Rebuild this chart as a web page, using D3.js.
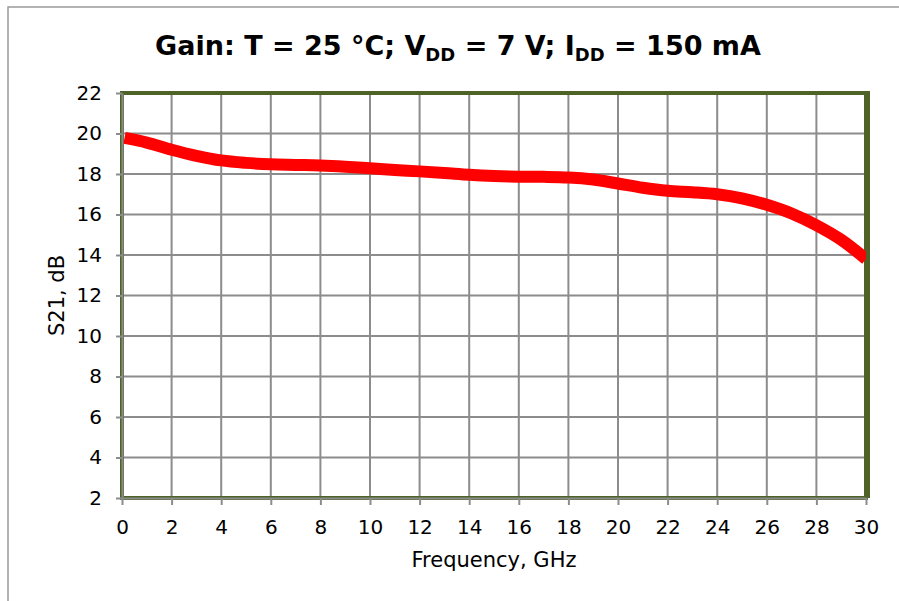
<!DOCTYPE html>
<html lang="en">
<head>
<meta charset="utf-8">
<title>Gain</title>
<script src="https://d3js.org/d3.v7.min.js"></script>
<style>
body { margin: 0; background: #fff; }
text { font-family: "DejaVu Sans", Verdana, sans-serif; fill: #000; }
.line { fill: none; stroke: #ff0000; stroke-width: 12px; stroke-linejoin: round; stroke-linecap: butt; }
</style>
</head>
<body>
<svg width="899" height="601"></svg>
<script>

var freq = [0.1, 1, 2, 3, 4, 5, 6, 7, 8, 9, 10, 11, 12, 13, 14, 15, 16, 17, 18, 19, 20,
            21, 22, 23, 24, 25, 26, 27, 28, 29, 30];
var s21 = [19.78, 19.55, 19.2, 18.9, 18.67, 18.55, 18.48, 18.45, 18.42, 18.36, 18.28, 18.2, 18.13, 18.05, 17.96, 17.9, 17.87, 17.86, 17.83, 17.73, 17.53,
           17.32, 17.17, 17.1, 17.0, 16.8, 16.48, 16.05, 15.47, 14.75, 13.8];
var xTicks = d3.range(0, 31, 2);
var yTicks = d3.range(2, 23, 2);

var data = freq.map((f, i) => ({f: f, v: s21[i]}));

var svg = d3.select("svg");

var margin = {top: 93, right: 33, bottom: 103, left: 122};
var width = +svg.attr("width") - margin.left - margin.right;
var height = +svg.attr("height") - margin.top - margin.bottom;

// outer chart frame, runs off the picture on right and bottom
svg.append("rect")
    .attr("x", 8).attr("y", 7)
    .attr("width", 1000).attr("height", 1000)
    .attr("fill", "none")
    .attr("stroke", "#9a9a9a")
    .attr("stroke-width", 1.5);

svg.append("clipPath").attr("id", "plot")
  .append("rect")
    .attr("x", 0).attr("y", 0)
    .attr("width", 744).attr("height", 405);

var g = svg.append("g").attr("transform", `translate(${margin.left}, ${margin.top})`);

var xScale = d3.scaleLinear().domain([0, 30]).range([0, width]);
var yScale = d3.scaleLinear().domain([2, 22]).range([height, 0]);

// grid
g.append("g")
    .selectAll("line")
    .data(xTicks)
    .enter().append("line")
    .attr("x1", d => xScale(d)).attr("x2", d => xScale(d))
    .attr("y1", 0).attr("y2", height)
    .attr("stroke", "#8c8c8c").attr("stroke-width", 2);

g.append("g")
    .selectAll("line")
    .data(yTicks)
    .enter().append("line")
    .attr("x1", 0).attr("x2", width)
    .attr("y1", d => yScale(d)).attr("y2", d => yScale(d))
    .attr("stroke", "#8c8c8c").attr("stroke-width", 2);

// plot border
g.append("rect")
    .attr("x", 0).attr("y", 0)
    .attr("width", width).attr("height", height)
    .attr("fill", "none")
    .attr("stroke", "#4f6228")
    .attr("stroke-width", 4);

g.append("line")
    .attr("x1", width + 1).attr("x2", width + 1)
    .attr("y1", -2).attr("y2", height)
    .attr("stroke", "#4f6228")
    .attr("stroke-width", 6);

var line = d3.line()
    .x(d => xScale(d.f))
    .y(d => yScale(d.v))
    .curve(d3.curveMonotoneX);

g.append("path")
    .datum(data)
    .attr("class", "line")
    .attr("clip-path", "url(#plot)")
    .attr("d", line);

// axes
var xAxis = g.append("g")
    .attr("transform", `translate(0, ${height})`)
    .call(d3.axisBottom(xScale).tickValues(xTicks).tickSize(7).tickPadding(15).tickSizeOuter(0));

var yAxis = g.append("g")
    .call(d3.axisLeft(yScale).tickValues(yTicks).tickSize(6).tickPadding(14).tickSizeOuter(0));

[xAxis, yAxis].forEach(a => {
  a.select(".domain").attr("stroke", "#8c8c8c").attr("stroke-width", 2);
  a.selectAll(".tick line").attr("stroke", "#8c8c8c").attr("stroke-width", 2);
  a.selectAll(".tick text").attr("font-size", 20).attr("fill", "#000")
    .style("font-family", "'DejaVu Sans', Verdana, sans-serif");
});

// labels
svg.append("text")
    .attr("x", margin.left + width / 2)
    .attr("y", 567)
    .attr("text-anchor", "middle")
    .attr("font-size", 21)
    .text("Frequency, GHz");

svg.append("text")
    .attr("transform", `translate(64, ${margin.top + height / 2}) rotate(-90)`)
    .attr("text-anchor", "middle")
    .attr("font-size", 21)
    .text("S21, dB");

var title = svg.append("text")
    .attr("x", 458)
    .attr("y", 55)
    .attr("text-anchor", "middle")
    .attr("font-size", 27)
    .attr("font-weight", "bold");

title.append("tspan").text("Gain: T = 25 °C; V");
title.append("tspan").attr("font-size", 18).attr("dy", 6).text("DD");
title.append("tspan").attr("dy", -6).text(" = 7 V; I");
title.append("tspan").attr("font-size", 18).attr("dy", 6).text("DD");
title.append("tspan").attr("dy", -6).text(" = 150 mA");

</script>
</body>
</html>
